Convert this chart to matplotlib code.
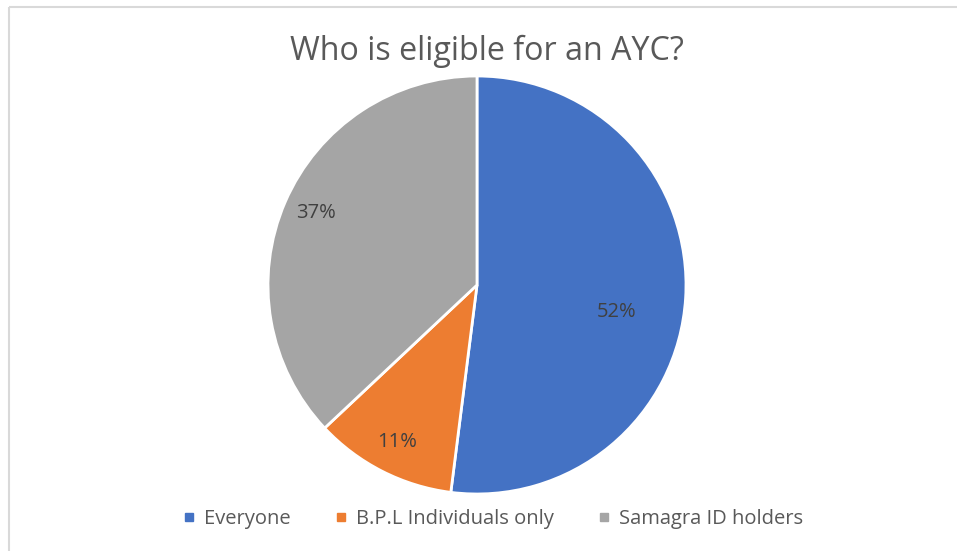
import matplotlib
matplotlib.use("Agg")
import matplotlib.pyplot as plt
from matplotlib.lines import Line2D

title = "Who is eligible for an AYC?"
categories = ["Everyone", "B.P.L Individuals only", "Samagra ID holders"]
values = [52, 11, 37]
colors = ["#4472C4", "#ED7D31", "#A5A5A5"]

W, H = 957, 551
fig = plt.figure(figsize=(W / 100, H / 100), dpi=100)
ax = fig.add_axes([0, 0, 1, 1])

# chart border (top and left visible)
ax.plot([8.5, W], [H - 6.5, H - 6.5], color="#D9D9D9", lw=1.5, solid_capstyle="butt")
ax.plot([8.5, 8.5], [0, H - 6.5], color="#D9D9D9", lw=1.5, solid_capstyle="butt")

cx, cy, r = 477, H - 285, 209
wedges, texts, autotexts = ax.pie(
    values, colors=colors, startangle=90, counterclock=False,
    center=(cx, cy), radius=r, frame=True,
    autopct=lambda p: f"{p:.0f}%",
    wedgeprops=dict(edgecolor="white", linewidth=2),
    textprops=dict(color="#404040", fontsize=14.5, family="Open Sans"),
)
# Excel-style label positions (pixel offsets from centre)
label_offsets = [(140, -27), (-80, -157), (-161, 72)]
for t, (dx, dy) in zip(autotexts, label_offsets):
    t.set_position((cx + dx, cy + dy))

ax.set_xlim(0, W)
ax.set_ylim(0, H)
ax.set_aspect("equal")
ax.axis("off")

ax.text(487, H - 51, title, ha="center", va="center", fontsize=23.2,
        color="#595959", family="Open Sans")

handles = [Line2D([], [], marker="s", linestyle="none", markersize=6,
                  markerfacecolor=c, markeredgecolor=c) for c in colors]
fig.legend(handles, categories, loc="center", bbox_to_anchor=(493 / W, 1 - 519 / H),
           ncol=3, frameon=False, handlelength=0.6, handletextpad=0.45,
           columnspacing=2.2, prop=dict(family="Open Sans", size=14.5),
           labelcolor="#595959")

fig.savefig("out.png", dpi=100)
